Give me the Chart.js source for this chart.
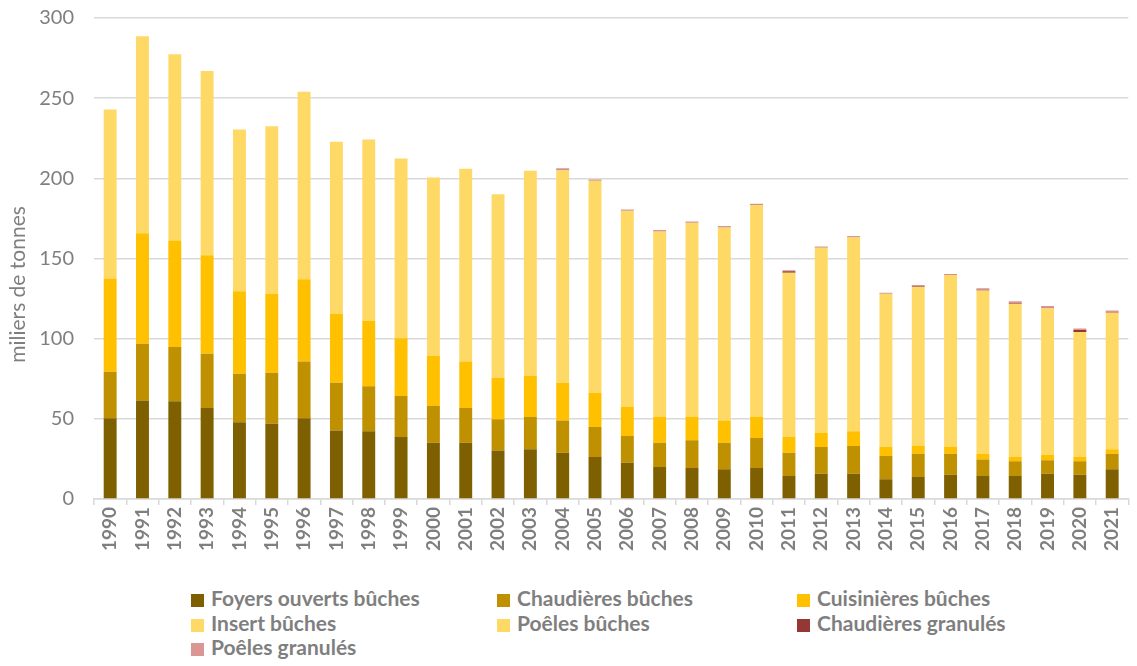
<!DOCTYPE html>
<html>
<head>
<meta charset="utf-8">
<script src="https://cdn.jsdelivr.net/npm/chart.js@4/dist/chart.umd.min.js"></script>
<style>
  html, body { margin: 0; padding: 0; background: #fff; }
  #wrap { position: relative; width: 1137px; height: 560px; }
  #legend { position: absolute; left: 191px; top: 586px; width: 920px;
    font-family: Lato, 'Open Sans', sans-serif; font-size: 21px; font-weight: bold; color: #7f7f7f; }
  .item { position: absolute; white-space: nowrap; line-height: 24px; }
  .box { display: inline-block; width: 13px; height: 13px; margin-right: 7px; vertical-align: -1px; }
</style>
</head>
<body>
<div id="wrap"><canvas id="c"></canvas></div>
<div id="legend"></div>
<script>
var years = ['1990','1991','1992','1993','1994','1995','1996','1997','1998','1999','2000',
  '2001','2002','2003','2004','2005','2006','2007','2008','2009','2010',
  '2011','2012','2013','2014','2015','2016','2017','2018','2019','2020','2021'];

var foyers = [50.3, 61.5, 60.9, 56.7, 47.8, 47.0, 50.3, 42.8, 42.2, 38.7, 35.1,
  35.1, 30.3, 31.0, 28.9, 26.2, 22.6, 19.9, 19.3, 18.5, 19.3,
  14.3, 15.8, 15.8, 12.3, 13.7, 15.1, 14.3, 14.3, 15.8, 15.1, 18.5];
var chaudBuches = [29.1, 35.3, 33.9, 33.9, 30.3, 31.8, 35.5, 29.7, 28.2, 25.5, 22.9,
  21.6, 19.4, 20.1, 20.1, 18.7, 16.7, 15.2, 17.3, 16.6, 18.7,
  14.6, 16.6, 17.2, 14.5, 14.5, 13.1, 10.4, 9.2, 8.3, 8.4, 9.7];
var cuisBuches = [58.2, 69.0, 66.5, 61.5, 51.4, 49.2, 51.2, 43.0, 40.8, 36.0, 31.2,
  29.1, 25.7, 25.6, 23.5, 21.4, 18.1, 16.0, 14.5, 13.9, 13.1,
  9.8, 8.9, 9.2, 5.6, 4.8, 4.2, 3.5, 2.7, 3.5, 2.7, 2.8];
var insertBuches = [0, 0, 0, 0, 0, 0, 0, 0, 0, 0, 0,
  0, 0, 0, 0, 0, 0, 0, 0, 0, 0,
  0, 0, 0, 0, 0, 0, 0, 0, 0, 0, 0];
var poelesBuches = [105.4, 122.8, 116.1, 114.9, 101.0, 104.5, 117.0, 107.3, 113.0, 112.2, 111.3,
  120.2, 114.7, 128.0, 132.6, 132.2, 122.4, 115.8, 121.2, 120.4, 132.2,
  102.4, 115.6, 121.0, 95.6, 99.2, 107.3, 101.9, 95.6, 91.3, 77.9, 85.1];
var chaudGranules = [0, 0, 0, 0, 0, 0, 0, 0, 0, 0, 0,
  0, 0, 0, 0.2, 0.1, 0.1, 0.1, 0.1, 0.1, 0.2,
  1.0, 0.2, 0.2, 0.2, 0.4, 0.2, 0.4, 0.5, 0.4, 1.3, 0.4];
var poelesGranules = [0, 0, 0, 0, 0, 0, 0, 0, 0, 0, 0,
  0, 0, 0, 1.0, 0.7, 0.7, 0.7, 0.7, 0.7, 0.6,
  0.5, 0.4, 0.6, 0.4, 0.8, 0.4, 0.9, 1.0, 1.0, 1.0, 1.1];

var seriesNames = ['Foyers ouverts bûches', 'Chaudières bûches', 'Cuisinières bûches',
  'Insert bûches', 'Poêles bûches', 'Chaudières granulés', 'Poêles granulés'];
var seriesData = [foyers, chaudBuches, cuisBuches, insertBuches, poelesBuches, chaudGranules, poelesGranules];
var seriesColors = ['#7f6000', '#bf9000', '#ffc000', '#ffd966', '#ffd966', '#953735', '#da9694'];

var yTicks = [0, 50, 100, 150, 200, 250, 300];
var yTitle = 'miliers de tonnes';

var FONT = 'Lato, "Open Sans", sans-serif';
var GREY = '#7f7f7f';

var datasets = seriesNames.map(function (name, i) {
  return {
    label: name,
    data: seriesData[i],
    backgroundColor: seriesColors[i],
    borderWidth: 0,
    barPercentage: 0.4,
    categoryPercentage: 1.0
  };
});

// y axis title sits a bit below the middle of the axis, as in the original
var yTitlePlugin = {
  id: 'yTitle',
  afterDraw: function (chart) {
    var ctx = chart.ctx, a = chart.chartArea;
    ctx.save();
    ctx.translate(18, (a.top + a.bottom) / 2 + 26);
    ctx.rotate(-Math.PI / 2);
    ctx.font = '21px ' + FONT;
    ctx.fillStyle = GREY;
    ctx.textAlign = 'center';
    ctx.textBaseline = 'middle';
    ctx.fillText(yTitle, 0, 0);
    ctx.restore();
  }
};

new Chart(document.getElementById('c'), {
  type: 'bar',
  data: { labels: years, datasets: datasets },
  plugins: [yTitlePlugin],
  options: {
    responsive: true,
    maintainAspectRatio: false,
    animation: false,
    layout: { padding: { top: 18, right: 1, left: 0, bottom: 0 } },
    plugins: { legend: { display: false }, tooltip: { enabled: false } },
    scales: {
      x: {
        stacked: true,
        offset: true,
        grid: { offset: true, drawOnChartArea: false, drawTicks: true, tickLength: 6, color: '#d9d9d9', lineWidth: 1.5 },
        border: { display: true, color: '#d9d9d9', width: 1.5 },
        ticks: { minRotation: 90, maxRotation: 90, autoSkip: false, padding: 2,
          color: GREY, font: { family: FONT, size: 19, weight: 'bold' } },
        afterFit: function (s) { s.height = 61; }
      },
      y: {
        stacked: true,
        min: 0, max: 300,
        afterBuildTicks: function (s) { s.ticks = yTicks.map(function (v) { return { value: v }; }); },
        grid: { color: '#d9d9d9', lineWidth: 1.5, drawTicks: true, tickLength: 16, tickColor: 'rgba(0,0,0,0)' },
        border: { display: false },
        ticks: { padding: 4, color: GREY, font: { family: FONT, size: 20 } },
        afterFit: function (s) { s.width = 94; }
      }
    }
  }
});

// legend in three columns
var legend = document.getElementById('legend');
var colX = [0, 306, 606];
seriesNames.forEach(function (name, i) {
  var el = document.createElement('div');
  el.className = 'item';
  el.style.left = colX[i % 3] + 'px';
  el.style.top = (Math.floor(i / 3) * 24.5) + 'px';
  el.innerHTML = '<span class="box" style="background:' + seriesColors[i] + '"></span>' + name;
  legend.appendChild(el);
});
</script>
</body>
</html>
